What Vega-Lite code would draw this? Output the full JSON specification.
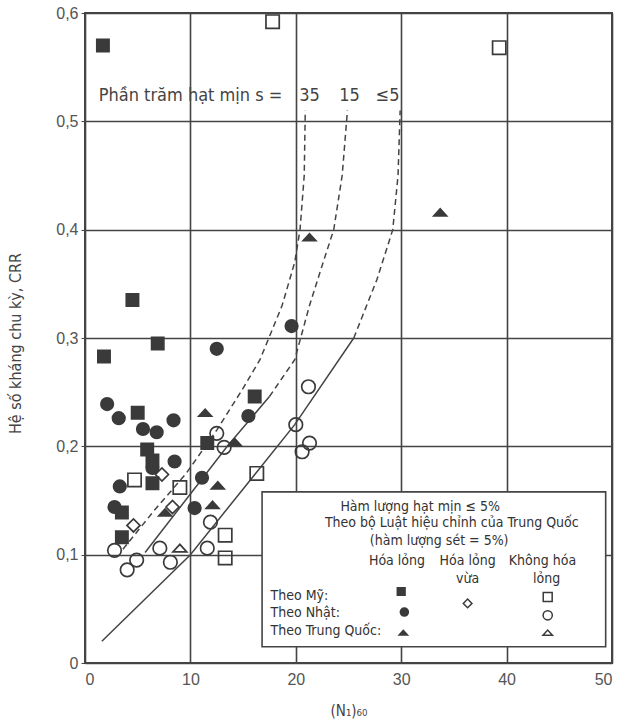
{
  "$schema": "https://vega.github.io/schema/vega-lite/v6.json",
  "width": 527,
  "height": 650,
  "autosize": {"type": "none"},
  "padding": {"left": 85, "top": 13, "right": 9, "bottom": 59},
  "background": "white",
  "config": {
    "view": {"stroke": "#444", "strokeWidth": 2},
    "font": "Liberation Sans"
  },
  "datasets": {
    "pts": [
      {"x": 1.7, "y": 0.570, "kind": "US_liq"},
      {"x": 4.5, "y": 0.335, "kind": "US_liq"},
      {"x": 6.9, "y": 0.295, "kind": "US_liq"},
      {"x": 1.8, "y": 0.283, "kind": "US_liq"},
      {"x": 5.0, "y": 0.231, "kind": "US_liq"},
      {"x": 16.1, "y": 0.246, "kind": "US_liq"},
      {"x": 11.6, "y": 0.203, "kind": "US_liq"},
      {"x": 5.9, "y": 0.197, "kind": "US_liq"},
      {"x": 6.4, "y": 0.187, "kind": "US_liq"},
      {"x": 6.4, "y": 0.166, "kind": "US_liq"},
      {"x": 3.5, "y": 0.139, "kind": "US_liq"},
      {"x": 3.5, "y": 0.116, "kind": "US_liq"},
      {"x": 12.5, "y": 0.290, "kind": "JP_liq"},
      {"x": 19.6, "y": 0.311, "kind": "JP_liq"},
      {"x": 15.5, "y": 0.228, "kind": "JP_liq"},
      {"x": 2.1, "y": 0.239, "kind": "JP_liq"},
      {"x": 3.2, "y": 0.226, "kind": "JP_liq"},
      {"x": 5.5, "y": 0.216, "kind": "JP_liq"},
      {"x": 6.8, "y": 0.213, "kind": "JP_liq"},
      {"x": 8.4, "y": 0.224, "kind": "JP_liq"},
      {"x": 6.4, "y": 0.180, "kind": "JP_liq"},
      {"x": 8.5, "y": 0.186, "kind": "JP_liq"},
      {"x": 3.3, "y": 0.163, "kind": "JP_liq"},
      {"x": 11.1, "y": 0.171, "kind": "JP_liq"},
      {"x": 2.8, "y": 0.144, "kind": "JP_liq"},
      {"x": 10.4, "y": 0.143, "kind": "JP_liq"},
      {"x": 21.3, "y": 0.393, "kind": "CN_liq"},
      {"x": 33.7, "y": 0.416, "kind": "CN_liq"},
      {"x": 11.4, "y": 0.231, "kind": "CN_liq"},
      {"x": 14.2, "y": 0.204, "kind": "CN_liq"},
      {"x": 12.6, "y": 0.164, "kind": "CN_liq"},
      {"x": 7.6, "y": 0.139, "kind": "CN_liq"},
      {"x": 12.1, "y": 0.146, "kind": "CN_liq"},
      {"x": 7.3, "y": 0.174, "kind": "marg"},
      {"x": 8.3, "y": 0.144, "kind": "marg"},
      {"x": 4.6, "y": 0.127, "kind": "marg"},
      {"x": 17.8, "y": 0.592, "kind": "US_non"},
      {"x": 39.3, "y": 0.568, "kind": "US_non"},
      {"x": 4.7, "y": 0.169, "kind": "US_non"},
      {"x": 9.0, "y": 0.162, "kind": "US_non"},
      {"x": 13.3, "y": 0.118, "kind": "US_non"},
      {"x": 13.3, "y": 0.097, "kind": "US_non"},
      {"x": 16.3, "y": 0.175, "kind": "US_non"},
      {"x": 21.2, "y": 0.255, "kind": "JP_non"},
      {"x": 20.0, "y": 0.220, "kind": "JP_non"},
      {"x": 21.3, "y": 0.203, "kind": "JP_non"},
      {"x": 20.6, "y": 0.195, "kind": "JP_non"},
      {"x": 12.5, "y": 0.212, "kind": "JP_non"},
      {"x": 13.2, "y": 0.199, "kind": "JP_non"},
      {"x": 11.9, "y": 0.130, "kind": "JP_non"},
      {"x": 2.8, "y": 0.104, "kind": "JP_non"},
      {"x": 7.1, "y": 0.106, "kind": "JP_non"},
      {"x": 11.6, "y": 0.106, "kind": "JP_non"},
      {"x": 4.9, "y": 0.095, "kind": "JP_non"},
      {"x": 4.0, "y": 0.086, "kind": "JP_non"},
      {"x": 8.1, "y": 0.093, "kind": "JP_non"},
      {"x": 9.0, "y": 0.106, "kind": "CN_non"}
    ],
    "legpts": [
      {"x": 30.0, "y": 0.066, "kind": "US_liq"},
      {"x": 30.3, "y": 0.047, "kind": "JP_liq"},
      {"x": 30.2, "y": 0.028, "kind": "CN_liq"},
      {"x": 36.3, "y": 0.055, "kind": "marg"},
      {"x": 43.9, "y": 0.061, "kind": "US_non"},
      {"x": 43.9, "y": 0.044, "kind": "JP_non"},
      {"x": 43.9, "y": 0.028, "kind": "CN_non"}
    ],
    "curves": [
      {"x": 3.6, "y": 0.105, "seg": "35d", "dash": "d"},
      {"x": 6.5, "y": 0.140, "seg": "35d", "dash": "d"},
      {"x": 9.6, "y": 0.175, "seg": "35d", "dash": "d"},
      {"x": 12.5, "y": 0.215, "seg": "35d", "dash": "d"},
      {"x": 14.9, "y": 0.252, "seg": "35d", "dash": "d"},
      {"x": 16.6, "y": 0.280, "seg": "35d", "dash": "d"},
      {"x": 18.7, "y": 0.330, "seg": "35d", "dash": "d"},
      {"x": 19.9, "y": 0.370, "seg": "35d", "dash": "d"},
      {"x": 20.4, "y": 0.400, "seg": "35d", "dash": "d"},
      {"x": 20.8, "y": 0.450, "seg": "35d", "dash": "d"},
      {"x": 20.9, "y": 0.510, "seg": "35d", "dash": "d"},
      {"x": 5.7, "y": 0.102, "seg": "15s", "dash": "s"},
      {"x": 13.5, "y": 0.200, "seg": "15s", "dash": "s"},
      {"x": 17.5, "y": 0.246, "seg": "15s", "dash": "s"},
      {"x": 17.5, "y": 0.246, "seg": "15d", "dash": "d"},
      {"x": 19.9, "y": 0.280, "seg": "15d", "dash": "d"},
      {"x": 21.3, "y": 0.330, "seg": "15d", "dash": "d"},
      {"x": 22.6, "y": 0.370, "seg": "15d", "dash": "d"},
      {"x": 23.6, "y": 0.400, "seg": "15d", "dash": "d"},
      {"x": 24.4, "y": 0.450, "seg": "15d", "dash": "d"},
      {"x": 24.9, "y": 0.510, "seg": "15d", "dash": "d"},
      {"x": 1.6, "y": 0.020, "seg": "5s", "dash": "s"},
      {"x": 10.0, "y": 0.100, "seg": "5s", "dash": "s"},
      {"x": 19.9, "y": 0.220, "seg": "5s", "dash": "s"},
      {"x": 25.5, "y": 0.300, "seg": "5s", "dash": "s"},
      {"x": 25.5, "y": 0.300, "seg": "5d", "dash": "d"},
      {"x": 27.7, "y": 0.354, "seg": "5d", "dash": "d"},
      {"x": 29.2, "y": 0.400, "seg": "5d", "dash": "d"},
      {"x": 29.7, "y": 0.450, "seg": "5d", "dash": "d"},
      {"x": 29.9, "y": 0.510, "seg": "5d", "dash": "d"}
    ],
    "box": [{"x": 16.8, "x2": 49.4, "y": 0.015, "y2": 0.158}],
    "toptext": [
      {"x": 1.3, "y": 0.523, "t": "Phần trăm hạt mịn s =", "a": "l"},
      {"x": 21.3, "y": 0.523, "t": "35", "a": "c"},
      {"x": 25.1, "y": 0.523, "t": "15", "a": "c"},
      {"x": 28.7, "y": 0.523, "t": "≤5", "a": "c"}
    ],
    "legtext": [
      {"x": 31.8, "y": 0.144, "t": "Hàm lượng hạt mịn ≤ 5%", "a": "c"},
      {"x": 34.8, "y": 0.129, "t": "Theo bộ Luật hiệu chỉnh của Trung Quốc", "a": "c"},
      {"x": 33.6, "y": 0.113, "t": "(hàm lượng sét = 5%)", "a": "c"},
      {"x": 29.6, "y": 0.094, "t": "Hóa lỏng", "a": "c"},
      {"x": 36.3, "y": 0.094, "t": "Hóa lỏng", "a": "c"},
      {"x": 36.3, "y": 0.078, "t": "vừa", "a": "c"},
      {"x": 43.4, "y": 0.094, "t": "Không  hóa", "a": "c"},
      {"x": 43.8, "y": 0.078, "t": "lỏng", "a": "c"},
      {"x": 17.6, "y": 0.062, "t": "Theo Mỹ:", "a": "l"},
      {"x": 17.6, "y": 0.046, "t": "Theo Nhật:", "a": "l"},
      {"x": 17.6, "y": 0.030, "t": "Theo Trung Quốc:", "a": "l"}
    ]
  },
  "encoding": {
    "x": {
      "field": "x", "type": "quantitative",
      "scale": {"domain": [0, 50], "nice": false, "zero": false},
      "axis": {
        "values": [0, 10, 20, 30, 40, 50],
        "grid": true, "gridColor": "#444", "gridWidth": 1.6, "gridOpacity": 1,
        "domain": false, "ticks": false,
        "labelPadding": 8, "labelFontSize": 16, "labelColor": "#555", "labelFont": "Liberation Sans",
        "title": "(N₁)₆₀", "titleFontSize": 15, "titleFontWeight": "normal", "titleColor": "#444",
        "titleFont": "Liberation Sans Narrow, Arial Narrow, DejaVu Sans Condensed, sans-serif",
        "titleY": 47, "titleBaseline": "middle"
      }
    },
    "y": {
      "field": "y", "type": "quantitative",
      "scale": {"domain": [0, 0.6], "nice": false, "zero": false},
      "axis": {
        "values": [0, 0.1, 0.2, 0.3, 0.4, 0.5, 0.6],
        "labelExpr": "datum.value == 0 ? '0' : replace(format(datum.value, '.1f'), '.', ',')",
        "grid": true, "gridColor": "#444", "gridWidth": 1.6, "gridOpacity": 1,
        "domain": false, "ticks": true, "tickSize": 4, "tickColor": "#444",
        "labelPadding": 3, "labelFontSize": 16, "labelColor": "#555", "labelFont": "Liberation Sans",
        "title": "Hệ số kháng chu kỳ, CRR", "titleFontSize": 16, "titleFontWeight": "normal", "titleColor": "#444",
        "titleFont": "Liberation Sans Narrow, Arial Narrow, DejaVu Sans Condensed, sans-serif",
        "titleX": -70, "titleY": 330, "titleBaseline": "middle", "titleAlign": "center", "titleAngle": 270
      }
    }
  },
  "layer": [
    {
      "data": {"name": "box"},
      "mark": {"type": "rect", "fill": "white", "stroke": "#444", "strokeWidth": 1.6},
      "encoding": {"x2": {"field": "x2"}, "y2": {"field": "y2"}}
    },
    {
      "data": {"name": "curves"},
      "transform": [{"filter": "datum.dash == 's'"}],
      "mark": {"type": "line", "stroke": "#444", "strokeWidth": 1.5},
      "encoding": {"detail": {"field": "seg"}}
    },
    {
      "data": {"name": "curves"},
      "transform": [{"filter": "datum.dash == 'd'"}],
      "mark": {"type": "line", "stroke": "#444", "strokeWidth": 1.5, "strokeDash": [6, 4]},
      "encoding": {"detail": {"field": "seg"}}
    },
    {
      "data": {"name": "pts"},
      "mark": {"type": "point", "filled": false, "stroke": "#3a3a3a", "strokeWidth": 1.7, "opacity": 1},
      "encoding": {
        "shape": {"field": "kind", "type": "nominal", "legend": null,
          "scale": {"domain": ["US_liq", "JP_liq", "CN_liq", "marg", "US_non", "JP_non", "CN_non"],
            "range": ["square", "circle", "M-1,0.55L1,0.55L0,-0.55Z", "diamond", "square", "circle", "M-1,0.55L1,0.55L0,-0.55Z"]}},
        "fill": {"field": "kind", "type": "nominal", "legend": null,
          "scale": {"domain": ["US_liq", "JP_liq", "CN_liq", "marg", "US_non", "JP_non", "CN_non"],
            "range": ["#3a3a3a", "#3a3a3a", "#3a3a3a", "transparent", "transparent", "transparent", "transparent"]}},
        "size": {"field": "kind", "type": "nominal", "legend": null,
          "scale": {"domain": ["US_liq", "JP_liq", "CN_liq", "marg", "US_non", "JP_non", "CN_non"],
            "range": [150, 190, 270, 100, 95, 130, 220]}}
      }
    },
    {
      "data": {"name": "legpts"},
      "mark": {"type": "point", "filled": false, "stroke": "#3a3a3a", "strokeWidth": 1.5, "opacity": 1},
      "encoding": {
        "shape": {"field": "kind", "type": "nominal", "legend": null},
        "fill": {"field": "kind", "type": "nominal", "legend": null},
        "size": {"field": "kind", "type": "nominal", "legend": null,
          "scale": {"domain": ["US_liq", "JP_liq", "CN_liq", "marg", "US_non", "JP_non", "CN_non"],
            "range": [60, 90, 200, 85, 60, 60, 170]}}
      }
    },
    {
      "data": {"name": "toptext"},
      "transform": [{"filter": "datum.a == 'l'"}],
      "mark": {"type": "text", "align": "left", "baseline": "middle", "fontSize": 18, "color": "#444",
        "font": "Liberation Sans Narrow, Arial Narrow, DejaVu Sans Condensed, sans-serif"},
      "encoding": {"text": {"field": "t"}}
    },
    {
      "data": {"name": "toptext"},
      "transform": [{"filter": "datum.a == 'c'"}],
      "mark": {"type": "text", "align": "center", "baseline": "middle", "fontSize": 18, "color": "#444",
        "font": "Liberation Sans Narrow, Arial Narrow, DejaVu Sans Condensed, sans-serif"},
      "encoding": {"text": {"field": "t"}}
    },
    {
      "data": {"name": "legtext"},
      "transform": [{"filter": "datum.a == 'l'"}],
      "mark": {"type": "text", "align": "left", "baseline": "middle", "fontSize": 14, "color": "#333",
        "font": "Liberation Sans Narrow, Arial Narrow, DejaVu Sans Condensed, sans-serif"},
      "encoding": {"text": {"field": "t"}}
    },
    {
      "data": {"name": "legtext"},
      "transform": [{"filter": "datum.a == 'c'"}],
      "mark": {"type": "text", "align": "center", "baseline": "middle", "fontSize": 14, "color": "#333",
        "font": "Liberation Sans Narrow, Arial Narrow, DejaVu Sans Condensed, sans-serif"},
      "encoding": {"text": {"field": "t"}}
    }
  ],
  "resolve": {"scale": {"size": "independent"}}
}
